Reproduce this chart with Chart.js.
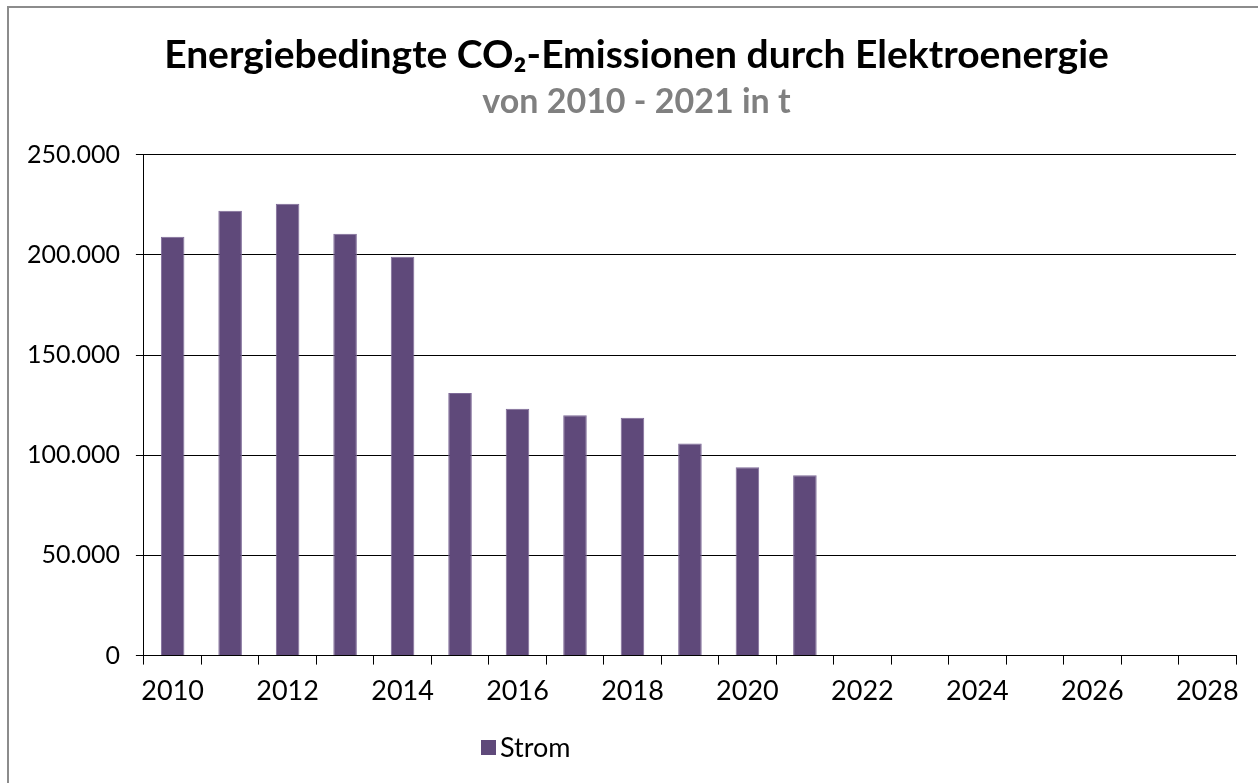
<!DOCTYPE html>
<html>
<head>
<meta charset="utf-8">
<script src="https://cdn.jsdelivr.net/npm/chart.js@4"></script>
<style>
  body { margin: 0; background: #fff; }
  #frame { position: absolute; left: 7px; top: 6px; width: 1300px; height: 820px;
           border-left: 2px solid #8c8c8c; border-top: 2px solid #8c8c8c; }
  #wrap { position: absolute; left: 0; top: 0; width: 1258px; height: 783px; }
</style>
</head>
<body>
<div id="frame"></div>
<div id="wrap"><canvas id="co2Chart" width="1258" height="783"></canvas></div>
<script>
// Jahre auf der x-Achse (nur bis 2021 gibt es Werte)
const years = ['2010', '2011', '2012', '2013', '2014', '2015', '2016', '2017', '2018', '2019',
               '2020', '2021', '2022', '2023', '2024', '2025', '2026', '2027', '2028'];
const stromValues = [209000, 222000, 225500, 210500, 199000, 131000, 123200, 119900, 118700, 105800,
                     94000, 90000, null, null, null, null, null, null, null];
const yTicks = [0, 50000, 100000, 150000, 200000, 250000];

const fontFamily = 'Lato, "Open Sans", sans-serif';

function formatDE(v) {
    return String(v).replace(/\B(?=(\d{3})+(?!\d))/g, '.');
}

// Titel/Untertitel etwas nach rechts schieben (wie im Original)
const titleShift = {
    id: 'titleShift',
    afterLayout(chart) {
        chart.boxes.forEach(b => {
            if (b.position === 'top' && b.options && b.options.text !== undefined) {
                b.left += 13;
                b.right += 13;
            }
        });
    }
};

// Legende unten, etwas links von der Mitte wie im Original
const legendPlugin = {
    id: 'bottomLegend',
    afterDraw(chart) {
        const ctx = chart.ctx;
        const ds = chart.data.datasets[0];
        ctx.save();
        ctx.fillStyle = ds.backgroundColor;
        ctx.fillRect(481, 740, 15, 15);
        ctx.fillStyle = '#000';
        ctx.font = '27px ' + fontFamily;
        ctx.textBaseline = 'middle';
        ctx.fillText(ds.label, 500, 748);
        ctx.restore();
    }
};

window.onload = function() {
    const ctx = document.getElementById('co2Chart').getContext('2d');
    new Chart(ctx, {
        type: 'bar',
        data: {
            labels: years,
            datasets: [{
                label: 'Strom',
                data: stromValues,
                backgroundColor: '#5F497A',
                borderColor: '#7e6a98',
                borderWidth: 1,
                categoryPercentage: 1,
                barPercentage: 0.41
            }]
        },
        options: {
            responsive: false,
            animation: false,
            layout: { padding: { left: 11, right: 22, top: 32, bottom: 66 } },
            plugins: {
                legend: { display: false },
                tooltip: { enabled: false },
                title: {
                    display: true,
                    text: 'Energiebedingte CO₂-Emissionen durch Elektroenergie',
                    color: '#000',
                    font: { family: fontFamily, size: 39, weight: 'bold' },
                    padding: { top: 0, bottom: 3 }
                },
                subtitle: {
                    display: true,
                    text: 'von 2010 - 2021 in t',
                    color: '#808080',
                    font: { family: fontFamily, size: 34, weight: 'bold' },
                    padding: { top: 0, bottom: 32 }
                }
            },
            scales: {
                x: {
                    grid: { drawOnChartArea: false, offset: true, tickLength: 9, color: '#000' },
                    border: { color: '#000' },
                    ticks: {
                        autoSkip: false,
                        maxRotation: 0,
                        color: '#000',
                        padding: 10,
                        font: { family: fontFamily, size: 27 },
                        callback: function(value, index) {
                            return index % 2 === 0 ? this.getLabelForValue(value) : '';
                        }
                    }
                },
                y: {
                    min: 0,
                    max: 250000,
                    afterBuildTicks: axis => { axis.ticks = yTicks.map(v => ({ value: v })); },
                    grid: { color: '#000', tickLength: 8 },
                    border: { color: '#000' },
                    ticks: {
                        color: '#000',
                        padding: 16,
                        font: { family: fontFamily, size: 25 },
                        callback: v => formatDE(v)
                    }
                }
            }
        },
        plugins: [titleShift, legendPlugin]
    });
};
</script>
</body>
</html>
